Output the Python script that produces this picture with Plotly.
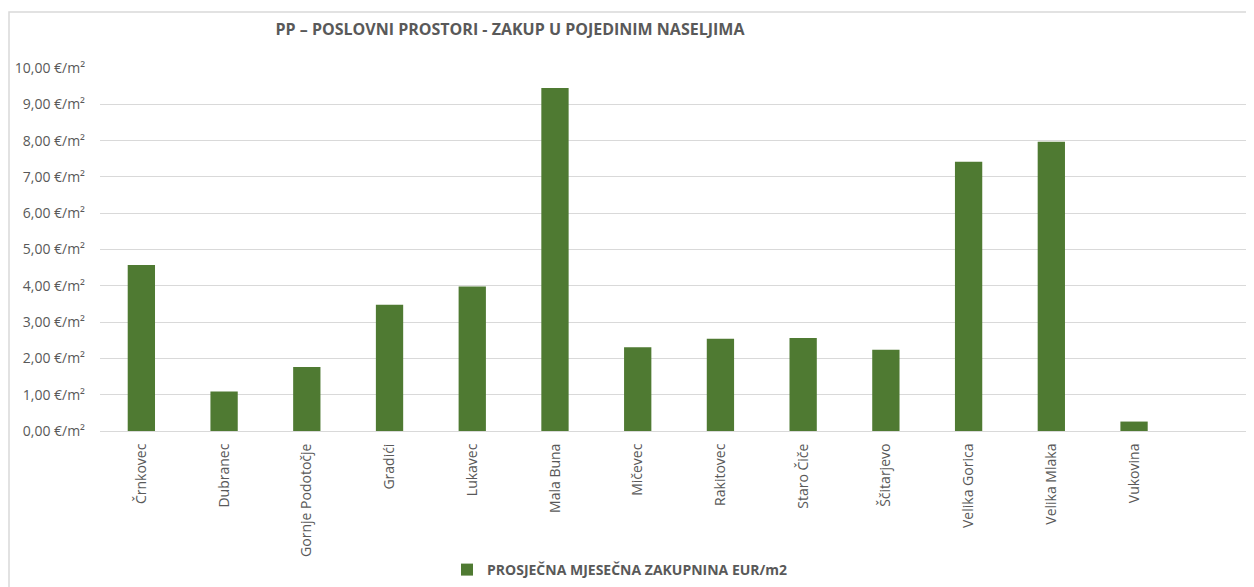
import plotly.graph_objects as go

categories = ["Črnkovec", "Dubranec", "Gornje Podotočje", "Gradići", "Lukavec",
              "Mala Buna", "Mičevec", "Rakitovec", "Staro Čiče", "Ščitarjevo",
              "Velika Gorica", "Velika Mlaka", "Vukovina"]
values = [4.57, 1.09, 1.76, 3.48, 3.98, 9.45, 2.31, 2.54, 2.56, 2.24, 7.42, 7.97, 0.26]
y_ticks = [0, 1, 2, 3, 4, 5, 6, 7, 8, 9, 10]
y_tick_labels = [f"{v:.2f}".replace(".", ",") + " €/m²" for v in y_ticks]
series_name = "PROSJEČNA MJESEČNA ZAKUPNINA EUR/m2"
title_text = "PP – POSLOVNI PROSTORI - ZAKUP U POJEDINIM NASELJIMA"

GREY = "#595959"
GREEN = "#4F7A32"
FONT = "Open Sans"

# page body has an 8px default margin
W, H = 1246, 579
L, T, B, R = 92, 60, 156, 0
PW, PH = W - L - R, H - T - B

fig = go.Figure()
fig.add_trace(go.Bar(
    x=list(range(len(categories))), y=values, name=series_name,
    marker=dict(color=GREEN, line=dict(width=0)),
    width=0.33, showlegend=True,
))

fig.update_layout(
    width=W, height=H,
    margin=dict(l=L, r=R, t=T, b=B, autoexpand=False),
    paper_bgcolor="white", plot_bgcolor="white",
    font=dict(family=FONT, color=GREY, size=14),
    title=dict(text=title_text, x=(510 - 100) / PW, xref="paper", xanchor="center",
               y=1 - (29 - 8) / H, yref="container", yanchor="middle",
               font=dict(family=FONT, size=16, color=GREY, weight="bold")),
    xaxis=dict(
        range=[-0.5, 13.45], tickmode="array",
        tickvals=list(range(len(categories))), ticktext=categories,
        tickangle=-90, showgrid=False, zeroline=False,
        showline=True, linecolor="#D9D9D9", linewidth=1,
        ticks="", ticklabelstandoff=6,
        tickfont=dict(family=FONT, size=14, color=GREY),
    ),
    yaxis=dict(
        range=[0, 10], tickmode="array", tickvals=y_ticks, ticktext=y_tick_labels,
        showgrid=True, gridcolor="#D9D9D9", gridwidth=1,
        zeroline=False, showline=False, ticks="", ticklabelstandoff=14,
        tickfont=dict(family=FONT, size=14, color=GREY),
    ),
    legend=dict(orientation="h", x=(620 - 100) / PW, xanchor="center",
                y=-(570 - 431) / PH, yanchor="middle",
                font=dict(family=FONT, size=14, color=GREY, weight="bold"),
                itemwidth=30),
    shapes=[dict(type="rect", xref="paper", yref="paper",
                 x0=(9 - 100) / PW, x1=1.2, y0=-0.8, y1=(431 - 12) / PH,
                 line=dict(color="#D9D9D9", width=1.5), layer="below")],
)

fig.write_html("out.html")
